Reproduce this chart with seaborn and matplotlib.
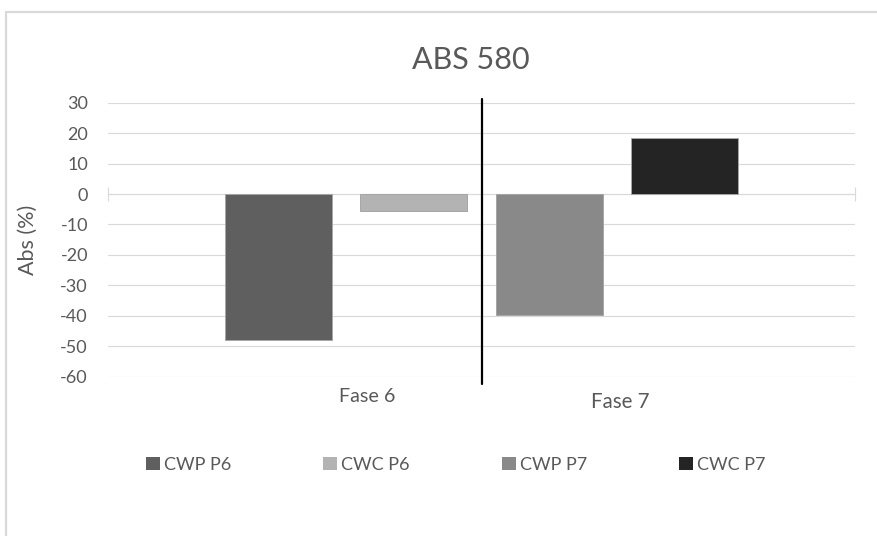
import matplotlib
matplotlib.use("Agg")
import matplotlib.pyplot as plt
from matplotlib.patches import Rectangle
import pandas as pd
import seaborn as sns

# Chart data
series = ["CWP P6", "CWC P6", "CWP P7", "CWC P7"]
values = [-48.0, -5.7, -39.8, 18.3]
colors = ["#5f5f5f", "#b3b3b3", "#898989", "#242424"]
phase_labels = ["Fase 6", "Fase 7"]
yticks = [30, 20, 10, 0, -10, -20, -30, -40, -50, -60]

sns.set_theme(style="white")
plt.rcParams["font.family"] = ["Lato", "DejaVu Sans"]
text_color = "#595959"
grid_color = "#d9d9d9"

df = pd.DataFrame({"series": series, "value": values})

fig = plt.figure(figsize=(8.78, 5.36), dpi=100)
ax = fig.add_axes([0.1230, 0.2972, 0.8508, 0.5112])

sns.barplot(data=df, x="series", y="value", hue="series", order=series,
            hue_order=series, palette=colors, width=0.79, dodge=False,
            legend=False, edgecolor="#a6a6a6", linewidth=0.7, ax=ax, zorder=3)

ax.set_xlim(-1.258, 4.255)
ax.set_ylim(-60, 30)
ax.set_yticks(yticks)
ax.set_yticklabels([str(t) for t in yticks])
ax.tick_params(axis="y", length=0, pad=14.4, labelsize=13, labelcolor=text_color)

# horizontal gridlines
ax.yaxis.grid(True, color=grid_color, linewidth=0.8, zorder=0)
ax.set_axisbelow(True)

# category axis along zero with end tick marks
for side in ["left", "right", "top"]:
    ax.spines[side].set_visible(False)
ax.spines["bottom"].set_position(("data", 0))
ax.spines["bottom"].set_color(grid_color)
ax.spines["bottom"].set_linewidth(0.8)
ax.set_xticks([-1.258, 4.255])
ax.set_xticklabels(["", ""])
ax.tick_params(axis="x", direction="inout", length=10, width=0.8,
               color=grid_color, bottom=True)
ax.set_xlabel("")

ax.set_ylabel("Abs (%)", fontsize=15.5, color=text_color)
ax.yaxis.set_label_coords(-0.094, 0.5)

ax.set_title("ABS 580", fontsize=22, color=text_color, pad=24, x=0.486)

# phase separator
ax.plot([1.5, 1.5], [31.3, -62.3], color="black", linewidth=1.6,
        clip_on=False, zorder=5)

# phase labels under the plot area
ax.text(0.653, -66.6, phase_labels[0], ha="center", va="center",
        fontsize=14.2, color=text_color)
ax.text(2.52, -68.3, phase_labels[1], ha="center", va="center",
        fontsize=14.8, color=text_color)

# legend from the bar containers
handles = [c.patches[0] for c in ax.containers]
leg = fig.legend(handles, series, loc="center", ncol=4,
                 bbox_to_anchor=(456 / 878, 1 - 465 / 536), frameon=False,
                 fontsize=13, handlelength=0.75, handleheight=0.75,
                 handletextpad=0.25, columnspacing=5.1, labelcolor=text_color)
for h in leg.legend_handles:
    h.set_edgecolor("none")

# outer chart frame
fig.patches.append(Rectangle((6 / 878, -0.2), 1.5, 1.2 - 12 / 536,
                             transform=fig.transFigure, fill=False,
                             edgecolor=grid_color, linewidth=1.6))

fig.savefig("out.png", dpi=100)
